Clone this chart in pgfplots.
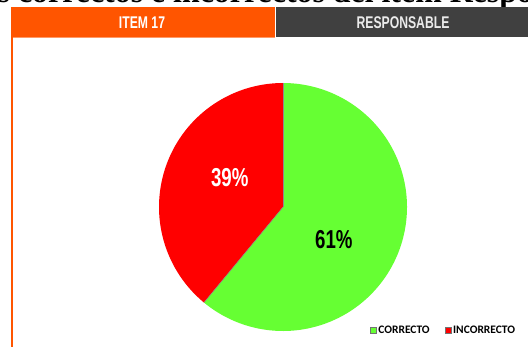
\documentclass[border=0pt]{standalone}
\usepackage{fontspec}
\usepackage{pgfplots}
\usepackage{pgfplotstable}
\pgfplotsset{compat=1.18}
\setmainfont{Liberation Sans}
\newfontfamily\narrowfont{Liberation Sans}[FakeStretch=0.72]
\newfontfamily\titlefont{Liberation Serif}
\newfontfamily\legfont{Carlito}
\definecolor{hdrorange}{HTML}{FF5500}
\definecolor{hdrgrey}{HTML}{404040}
\definecolor{pgreen}{HTML}{66FF33}
\definecolor{pred}{HTML}{FF0000}
\pgfplotstableread{
label value
CORRECTO 61
INCORRECTO 39
}\piedata
\pgfplotstablegetelem{0}{value}\of\piedata \let\vA\pgfplotsretval
\pgfplotstablegetelem{1}{value}\of\piedata \let\vB\pgfplotsretval
\begin{document}
\begin{tikzpicture}[x=1bp,y=1bp]
\path[use as bounding box] (0,0) rectangle (528,347);
\clip (0,0) rectangle (528,347);
% cut-off title
\node[anchor=base east, inner sep=0, font=\titlefont\bfseries\fontsize{32}{36}\selectfont] at (620,345) {Porcentajes correctos e incorrectos del ítem Responsable};
% header
\fill[hdrorange] (11,310) rectangle (274.5,340);
\fill[hdrgrey] (276,310) rectangle (528,340);
\fill[hdrorange!60] (11,309) rectangle (274.5,310.5);
\fill[hdrorange] (11,0) rectangle (12.5,310);
\node[text=white, font=\narrowfont\bfseries\fontsize{17}{20}\selectfont] at (142,324.5) {ITEM 17};
\node[text=white!92!black, font=\narrowfont\bfseries\fontsize{17}{20}\selectfont] at (403,324.5) {RESPONSABLE};
\begin{axis}[
  at={(283bp,140bp)}, anchor=center,
  x=124bp, y=124bp,
  xmin=-1, xmax=1, ymin=-1, ymax=1,
  hide axis, clip=false,
  legend columns=2,
  legend style={draw=none, fill=none, at={(1.147,0.004)}, anchor=center,
    font=\legfont\bfseries\fontsize{11.5}{12}\selectfont,
    nodes={inner sep=1.5bp},
    /tikz/every even column/.append style={column sep=14bp},
    inner sep=0pt},
  legend image code/.code={\draw[#1, draw=black!55, line width=0.5bp] (-1.5bp,-3bp) rectangle (4.5bp,3bp);},
]
\addplot[fill=pgreen, draw=none, domain={90-\vA*3.6}:90, samples=150, variable=\t]
  ({cos(t)},{sin(t)}) -- (axis cs:0,0) -- cycle;
\addlegendentry{CORRECTO}
\addplot[fill=pred, draw=none, domain=90:{90+\vB*3.6}, samples=100, variable=\t]
  ({cos(t)},{sin(t)}) -- (axis cs:0,0) -- cycle;
\addlegendentry{INCORRECTO}
\draw[black!45, line width=0.5bp] (axis cs:0,0) -- (axis cs:0,1);
\draw[black!45, line width=0.5bp] (axis cs:0,0) -- (axis cs:{cos(90+\vB*3.6)},{sin(90+\vB*3.6)});
\node[text=white, font=\narrowfont\bfseries\fontsize{26}{30}\selectfont] at (axis cs:-0.43,0.235) {\vB\%};
\node[text=black, font=\narrowfont\bfseries\fontsize{26}{30}\selectfont] at (axis cs:0.41,-0.26) {\vA\%};
\end{axis}
\end{tikzpicture}
\end{document}
